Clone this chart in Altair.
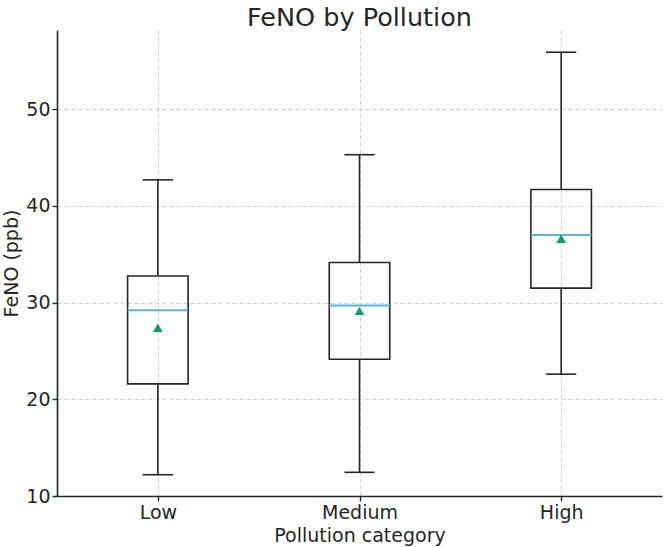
import altair as alt
import pandas as pd

# Box-plot summary of FeNO (ppb) per pollution category
categories = ["Low", "Medium", "High"]
whisker_low = [12.2, 12.45, 22.6]
q1 = [21.6, 24.15, 31.5]
median = [29.2, 29.7, 37.0]
q3 = [32.75, 34.15, 41.7]
whisker_high = [42.7, 45.3, 55.9]
mean = [27.4, 29.15, 36.6]

df = pd.DataFrame({
    "category": categories,
    "pos": list(range(1, len(categories) + 1)),
    "lo": whisker_low,
    "q1": q1,
    "med": median,
    "q3": q3,
    "hi": whisker_high,
    "mean": mean,
})

FONT = "DejaVu Sans"
INK = "#262626"
BOX_HALF = 0.15
CAP_HALF = 0.075

x_scale = alt.Scale(domain=[0.5, 3.5], nice=False, zero=False)
y_scale = alt.Scale(domain=[10, 58.2], nice=False, zero=False)

label_expr = "[" + ",".join(f"'{c}'" for c in categories) + "][datum.value - 1]"

base = alt.Chart(df).transform_calculate(
    box_l=f"datum.pos - {BOX_HALF}",
    box_r=f"datum.pos + {BOX_HALF}",
    cap_l=f"datum.pos - {CAP_HALF}",
    cap_r=f"datum.pos + {CAP_HALF}",
)

x_axis = alt.X(
    "pos:Q",
    scale=x_scale,
    title="Pollution category",
    axis=alt.Axis(values=[1, 2, 3], labelExpr=label_expr, titlePadding=4),
)
y_axis = alt.Y(
    "lo:Q",
    scale=y_scale,
    title="FeNO (ppb)",
    axis=alt.Axis(values=[10, 20, 30, 40, 50], titlePadding=4),
)

line_style = dict(color=INK, strokeWidth=1.6)

lower_whisker = base.mark_rule(**line_style).encode(
    x=x_axis, y=y_axis, y2="q1:Q"
)
upper_whisker = base.mark_rule(**line_style).encode(
    x="pos:Q", y="q3:Q", y2="hi:Q"
)
lower_cap = base.mark_rule(**line_style).encode(
    x="cap_l:Q", x2="cap_r:Q", y="lo:Q"
)
upper_cap = base.mark_rule(**line_style).encode(
    x="cap_l:Q", x2="cap_r:Q", y="hi:Q"
)
box = base.mark_rect(
    fillOpacity=0, stroke=INK, strokeWidth=1.6
).encode(x="box_l:Q", x2="box_r:Q", y="q1:Q", y2="q3:Q")
median_line = base.mark_rule(color="#5ab4d6", strokeWidth=2).encode(
    x="box_l:Q", x2="box_r:Q", y="med:Q"
)
mean_marker = base.mark_point(
    shape="triangle-up", filled=True, color="#109b72", opacity=1, size=95
).encode(x="pos:Q", y="mean:Q")

chart = (
    alt.layer(
        lower_whisker, upper_whisker, lower_cap, upper_cap, box, median_line, mean_marker
    )
    .properties(
        width=605,
        height=466,
        autosize=alt.AutoSizeParams(type="none"),
        padding={"left": 57, "top": 30, "right": 2, "bottom": 51},
        title=alt.TitleParams(
            "FeNO by Pollution",
            font=FONT,
            fontSize=25.5,
            fontWeight="normal",
            color=INK,
            anchor="middle",
            offset=-1,
        ),
    )
    .configure_view(stroke=None)
    .configure_axis(
        labelFont=FONT,
        titleFont=FONT,
        labelFontSize=19,
        titleFontSize=19,
        titleFontWeight="normal",
        labelColor=INK,
        titleColor=INK,
        domainColor=INK,
        domainWidth=1.6,
        tickColor=INK,
        tickWidth=1.4,
        tickSize=5,
        labelPadding=2,
        grid=True,
        gridColor="#cfcfcf",
        gridDash=[4, 3],
        gridWidth=1,
    )
)

chart.save("out.html", embed_options={"renderer": "svg", "actions": False})
